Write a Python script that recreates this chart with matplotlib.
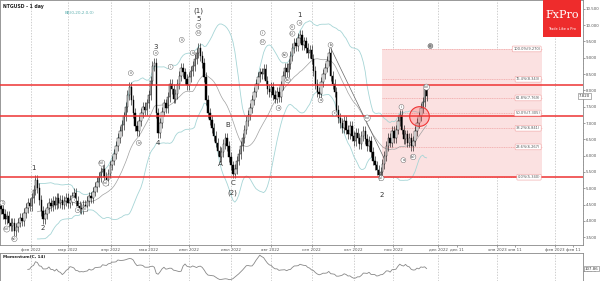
import numpy as np
import pandas as pd
import matplotlib
matplotlib.use("Agg")
import matplotlib.pyplot as plt
from matplotlib.patches import Rectangle

# daily closes NTGUSD, Jan 10 2022 - Nov 22 2022
closes = [
    4.35, 4.20, 4.05, 4.15, 3.95, 3.85, 3.95, 3.70, 3.80, 3.95,
    4.10, 4.00, 4.25, 4.40, 4.55, 4.45, 4.70, 4.95, 5.25, 5.00,
    4.65, 4.30, 4.05, 4.20, 4.40, 4.55, 4.45, 4.60, 4.50, 4.70,
    4.55, 4.65, 4.50, 4.60, 4.70, 4.55, 4.65, 4.75, 4.85, 4.60,
    4.45, 4.40, 4.35, 4.50, 4.45, 4.60, 4.75, 4.70, 4.90, 5.05,
    5.20, 5.35, 5.50, 5.60, 5.35, 5.25, 5.45, 5.70, 5.85, 6.05,
    6.30, 6.55, 6.75, 6.95, 7.20, 7.50, 7.85, 8.10, 7.70, 7.30,
    6.90, 6.75, 7.05, 7.30, 7.50, 7.40, 7.60, 7.85, 8.30, 8.75,
    8.85, 7.30, 6.70, 7.00, 7.35, 7.60, 7.45, 7.80, 8.20, 8.05,
    7.75, 7.90, 8.20, 8.45, 8.70, 8.55, 8.35, 8.15, 8.40, 8.60,
    8.75, 8.95, 9.15, 9.30, 9.05, 8.85, 8.40, 7.70, 7.30, 7.10,
    6.85, 6.60, 6.40, 6.15, 5.95, 6.10, 6.35, 6.55, 6.30, 5.95,
    5.70, 5.45, 5.60, 5.85, 6.05, 6.30, 6.55, 6.80, 7.05, 7.25,
    7.45, 7.70, 7.95, 8.20, 8.40, 8.55, 8.50, 8.65, 8.30, 8.05,
    7.95, 8.10, 7.85, 7.75, 7.95, 7.80, 8.15, 8.45, 8.70, 8.55,
    8.80, 9.05, 9.30, 9.45, 9.35, 9.60, 9.70, 9.40, 9.50, 9.30,
    9.15, 9.25, 8.95, 8.60, 8.20, 7.95, 7.90, 8.25, 8.50, 8.70,
    8.90, 9.15, 8.45, 8.20, 7.95, 7.40, 7.15, 7.00, 6.85, 7.05,
    6.80, 6.65, 6.90, 6.60, 6.45, 6.70, 6.55, 6.35, 6.60, 6.75,
    6.50, 6.30, 6.45, 6.10, 5.85, 5.70, 5.55, 5.40, 5.50, 5.75,
    6.00, 6.30, 6.55, 6.40, 6.75, 6.55, 6.80, 7.05, 7.25, 6.80,
    6.50, 6.65, 6.40, 6.55, 6.30, 6.45, 6.75, 7.00, 7.20, 7.45,
    7.65, 8.05, 7.82,
]
first_open = 4.45

month_pos = [15.6, 34.9, 57.3, 77.1, 97.9, 119.8, 140.6, 162.0, 183.9, 204.7,
             228.1, 238.0, 258.9, 268.2, 289.0, 298.4]
month_labels = ["фев 2022", "мар 2022", "апр 2022", "мая 2022", "июн 2022",
                "июл 2022", "авг 2022", "сен 2022", "окт 2022", "ноя 2022",
                "дек 2022", "дек 11", "янв 2023", "янв 11", "фев 2023", "фев 11"]
grid_pos = [15.6, 34.9, 57.3, 77.1, 97.9, 119.8, 140.6, 162.0, 183.9, 204.7,
            228.1, 258.9, 289.0]

red_levels = [8.17, 7.23, 5.34]
fib_low, fib_high = 5.34, 9.27
fib_ratios = [0.0, 0.236, 0.382, 0.5, 0.618, 0.764, 1.0]
fib_start, fib_end = 199, 282.3

big_waves = [("1", 16.7, 5.62), ("2", 21.9, 3.78), ("3", 80.7, 9.33), ("4", 81.8, 6.39),
             ("(1)", 103, 10.43), ("5", 103, 10.19), ("A", 114.6, 5.74), ("B", 118.2, 6.94),
             ("C", 120.8, 5.16), ("(2)", 120.8, 4.85), ("1", 155.7, 10.31), ("2", 198.4, 4.79)]
small_waves = [("v", 80.7, 9.15), ("iii", 67.7, 8.53), ("v", 103, 9.98), ("(c)", 103, 9.76),
               ("i", 88.5, 8.72), ("iii", 94.3, 9.55), ("iv", 100, 9.15),
               ("i", 136.5, 9.76), ("(c)", 136.5, 9.48), ("a", 144.8, 7.46),
               ("(a)", 148, 9.09), ("(b)", 149.5, 8.32), ("iii", 152, 9.94), ("(c)", 152, 9.74),
               ("v", 155.7, 10.07), ("a", 166.7, 7.70), ("b", 171.9, 9.39), ("c", 174, 7.30),
               ("(iv)", 191, 7.15), ("(v)", 198.4, 5.31), ("i", 208.9, 7.49), ("a", 209.9, 5.86),
               ("(b)", 215, 5.96), ("(iii)", 221.9, 8.10), ("i", 38, 4.64), ("a", 40, 4.33),
               ("(ii)", 44, 4.36), ("(iii)", 52.6, 5.77), ("(iv)", 54.7, 5.16), ("iv", 71.9, 6.39),
               ("(iii)", 3, 3.75), ("(a)", 7, 3.45), ("1", 0.8, 4.55)]

c = pd.Series(closes)
o = c.shift(1).fillna(first_open)
hi = np.maximum(o, c) + 0.15
lo = np.minimum(o, c) - 0.15
idx = np.arange(len(c))
mid = c.rolling(20).mean()
sd = c.rolling(20).std(ddof=0)
mom = 100 * c / c.shift(14)

fig = plt.figure(figsize=(6, 2.81), dpi=100)
ax = fig.add_axes([0, 0.128, 0.9717, 0.872])
ax2 = fig.add_axes([0, 0.0, 0.9717, 0.0996])

for a in (ax, ax2):
    for s in a.spines.values():
        s.set_color("#888888")
        s.set_linewidth(0.6)

ax.set_xlim(-0.5, 303.6)
ax.set_ylim(3.26, 10.77)

for g in grid_pos:
    ax.axvline(g, color="#bbbbbb", lw=0.5, ls=(0, (2, 2)), zorder=0)
    ax2.axvline(g, color="#bbbbbb", lw=0.5, ls=(0, (2, 2)), zorder=0)

# fibonacci box
ax.add_patch(Rectangle((fib_start, fib_low), fib_end - fib_start, fib_high - fib_low,
                       facecolor="#fbe1e1", edgecolor="none", zorder=0.5))
for r in fib_ratios:
    lv = fib_low + r * (fib_high - fib_low)
    ax.plot([fib_start, fib_end], [lv, lv], color="#f0a0a0", lw=0.5, ls=(0, (1.5, 1)), zorder=0.6)
    ax.text(fib_end - 1, lv, "%.1f%%(%.3f)" % (r * 100, lv), fontsize=2.6, color="#555555",
            ha="right", va="center", zorder=5,
            bbox=dict(boxstyle="round,pad=0.25", fc="white", ec="#f0a0a0", lw=0.4))

# bollinger & ma
ax.plot(idx, mid + 2 * sd, color="#a6d5d6", lw=0.6, zorder=1)
ax.plot(idx, mid - 2 * sd, color="#a6d5d6", lw=0.6, zorder=1)
ax.plot(idx, mid, color="#a0a0a0", lw=0.5, zorder=1)

# candles
up = c >= o
ax.vlines(idx, lo, hi, color="black", lw=0.4, zorder=2)
ax.bar(idx[up], (c - o)[up], bottom=o[up], width=0.75, color="white", edgecolor="black",
       linewidth=0.3, zorder=3)
ax.bar(idx[~up], (c - o)[~up], bottom=o[~up], width=0.75, color="black", edgecolor="black",
       linewidth=0.3, zorder=3)

# trend line
ax.plot([172, 200], [9.3, 5.9], color="#666666", lw=0.5, zorder=2)

for lv in red_levels:
    ax.axhline(lv, color="#ee3333", lw=1.1, zorder=4)

ax.scatter([218], [7.23], s=200, facecolor=(1, 0.3, 0.3, 0.25), edgecolor="#ee3333",
           linewidth=0.8, zorder=6)

for t, x, y in big_waves:
    ax.text(x, y, t, fontsize=5, color="#333333", ha="center", va="center", zorder=7)
for t, x, y in small_waves:
    ax.text(x, y, t, fontsize=2.3, color="#333333", ha="center", va="center", zorder=7,
            bbox=dict(boxstyle="circle,pad=0.15", fc="white", ec="#555555", lw=0.3))
ax.text(224, 9.36, "iii", fontsize=2.3, color="#333333", ha="center", va="center", zorder=7,
        bbox=dict(boxstyle="circle,pad=0.15", fc="#aaaaaa", ec="#555555", lw=0.3))

# axes ticks
ax.yaxis.tick_right()
ax.set_yticks(np.arange(3.5, 10.51, 0.5))
ax.set_yticklabels(["%.3f" % v for v in np.arange(3.5, 10.51, 0.5)])
ax.set_yticks(np.arange(3.3, 10.75, 0.1), minor=True)
ax.tick_params(axis="y", labelsize=2.9, length=1.5, width=0.4, pad=0.5, colors="#555555")
ax.tick_params(axis="y", which="minor", length=0.8, width=0.3, colors="#888888")
ax.set_xticks(month_pos)
ax.set_xticklabels(month_labels)
ax.tick_params(axis="x", labelsize=2.9, length=1.5, width=0.4, pad=0.5, colors="#555555")
ax.text(c.index[-1] + 79.3, c.iloc[-1], "%.3f" % c.iloc[-1], fontsize=2.8, color="#333333",
        ha="left", va="center", clip_on=False,
        bbox=dict(boxstyle="square,pad=0.2", fc="white", ec="#777777", lw=0.4))

ax.text(0.005, 0.985, "NTGUSD - 1 day", transform=ax.transAxes, fontsize=3.3,
        color="#222222", ha="left", va="top", fontweight="bold")
ax.text(0.11, 0.955, "BB(0,20,2.0,0)", transform=ax.transAxes, fontsize=3,
        color="#5fb0b0", ha="left", va="top")

# logo
logo = Rectangle((0.905, 0.868), 0.064, 0.132, transform=fig.transFigure,
                 facecolor="#ee2c2c", edgecolor="none", zorder=10)
fig.patches.append(logo)
fig.text(0.937, 0.945, "FxPro", fontsize=8, color="white", ha="center", va="center",
         family="DejaVu Serif", zorder=11)
fig.text(0.937, 0.898, "Trade Like a Pro", fontsize=2.5, color="white", ha="center",
         va="center", zorder=11)

# momentum
ax2.plot(idx, mom, color="#888888", lw=0.6)
ax2.set_xlim(-0.5, 303.6)
mmin, mmax = np.nanmin(mom), np.nanmax(mom)
ax2.set_ylim(mmin - 5, mmax + 8)
ax2.set_xticks([])
ax2.yaxis.tick_right()
ax2.set_yticks([100])
ax2.set_yticklabels(["100.0"])
ax2.tick_params(axis="y", labelsize=2.8, length=1.5, width=0.4, pad=0.5, colors="#555555")
ax2.text(0.005, 0.93, "Momentum(C, 14)", transform=ax2.transAxes, fontsize=3,
         color="#222222", ha="left", va="top", fontweight="bold")
ax2.text(303.6 + 0.8, mom.iloc[-1], "%.2f" % mom.iloc[-1], fontsize=2.8, color="#333333",
         ha="left", va="center", clip_on=False,
         bbox=dict(boxstyle="square,pad=0.2", fc="white", ec="#777777", lw=0.4))

fig.savefig("out.png", dpi=100)
